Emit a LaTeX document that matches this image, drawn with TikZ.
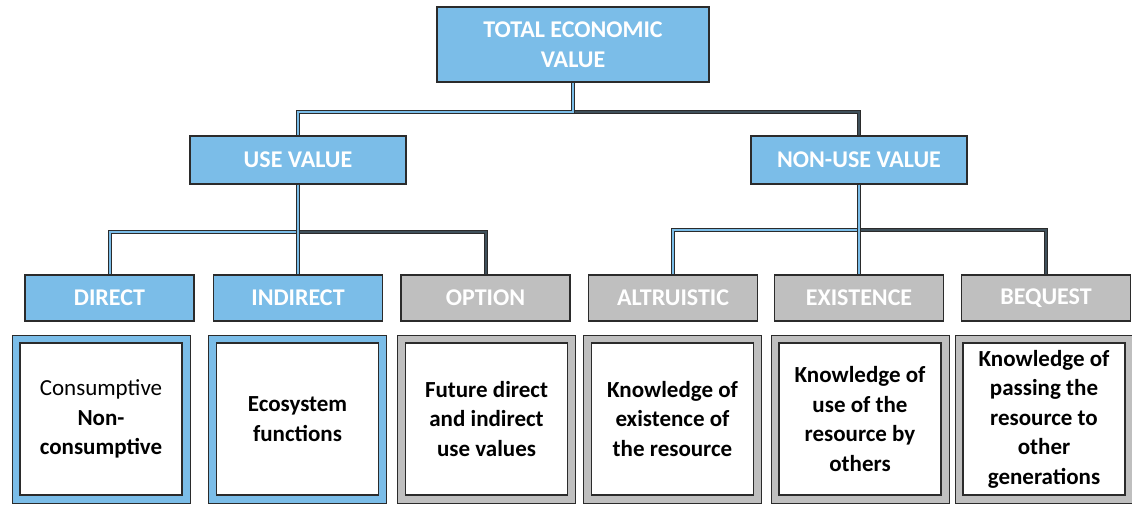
\documentclass[tikz,border=0pt]{standalone}
\usepackage{fontspec}
\setmainfont{Carlito}
\usepackage{tikz}

\definecolor{tevblue}{HTML}{7BBDE8}
\definecolor{optgray}{HTML}{BFBFBF}
\definecolor{edge}{HTML}{2B2B2B}

\tikzset{
  head/.style={draw=edge, line width=1.2pt, text=white, align=center, inner sep=0pt,
    font=\fontsize{24}{30}\selectfont\bfseries},
  toplevel/.style={head, fill=tevblue, minimum width=272pt, minimum height=75pt},
  midlevel/.style={head, fill=tevblue, minimum width=216pt, minimum height=48pt},
  leaf/.style={head, minimum width=169pt, minimum height=46pt},
  frame/.style={draw=edge, line width=1pt, inner sep=0pt, minimum width=178pt, minimum height=168pt},
  card/.style={draw=edge, line width=1.2pt, fill=white, inner sep=0pt, align=center,
    minimum width=162pt, minimum height=152pt, font=\fontsize{23}{29.5}\selectfont\bfseries},
  link/.style={draw=edge, line width=1pt, double=tevblue, double distance=2pt},
  darklink/.style={link, double=edge!75!tevblue}
}

\begin{document}
\begin{tikzpicture}[x=1pt,y=-1pt]

  % Fix the page to the size of the picture
  \useasboundingbox (0,0) rectangle (1132,504);

  % Top of the tree
  \node[toplevel] (tev) at (573,44.5) {TOTAL ECONOMIC\\VALUE};

  % Use and non-use value
  \node[midlevel] (use) at (298,160) {USE VALUE};
  \node[midlevel] (nonuse) at (859,160) {NON-USE VALUE};

  % Kinds of value
  \node[leaf, fill=tevblue] (direct) at (109.5,298) {DIRECT};
  \node[leaf, fill=tevblue] (indirect) at (298,298) {INDIRECT};
  \node[leaf, fill=optgray] (option) at (485.5,298) {OPTION};
  \node[leaf, fill=optgray] (altruistic) at (673,298) {ALTRUISTIC};
  \node[leaf, fill=optgray] (existence) at (859,298) {EXISTENCE};
  \node[leaf, fill=optgray] (bequest) at (1046,298) {BEQUEST};

  % Framed cards under each kind
  \node[frame, fill=tevblue] (fdirect) at (101,419) {};
  \node[frame, fill=tevblue] (findirect) at (297.5,419) {};
  \node[frame, fill=optgray] (foption) at (486.5,419) {};
  \node[frame, fill=optgray] (faltruistic) at (672.5,419) {};
  \node[frame, fill=optgray] (fexistence) at (860,419) {};
  \node[frame, fill=optgray] (fbequest) at (1044,419) {};

  \node[card] (cdirect) at (fdirect) {{\mdseries Consumptive}\\Non-\\consumptive};
  \node[card] (cindirect) at (findirect) {Ecosystem\\functions};
  \node[card] (coption) at (foption) {Future direct\\and indirect\\use values};
  \node[card] (caltruistic) at (faltruistic) {Knowledge of\\existence of\\the resource};
  \node[card] (cexistence) at (fexistence) {Knowledge of\\use of the\\resource by\\others};
  \node[card] (cbequest) at (fbequest) {Knowledge of\\passing the\\resource to\\other\\generations};

  % Connectors from the top
  \draw[darklink] (tev.south) ++(0,29) -| (nonuse.north);
  \draw[link] (tev.south) -- ++(0,29) -| (use.north);

  % Connectors under use value
  \draw[darklink] (use.south) ++(0,47) -| (option.north);
  \draw[link] (use.south) -- ++(0,47) -| (direct.north);
  \draw[link] (use.south) -- (indirect.north);

  % Connectors under non-use value
  \draw[darklink] (nonuse.south) ++(0,45) -| (bequest.north);
  \draw[link] (nonuse.south) -- ++(0,45) -| (altruistic.north);
  \draw[link] (nonuse.south) -- (existence.north);

\end{tikzpicture}
\end{document}
